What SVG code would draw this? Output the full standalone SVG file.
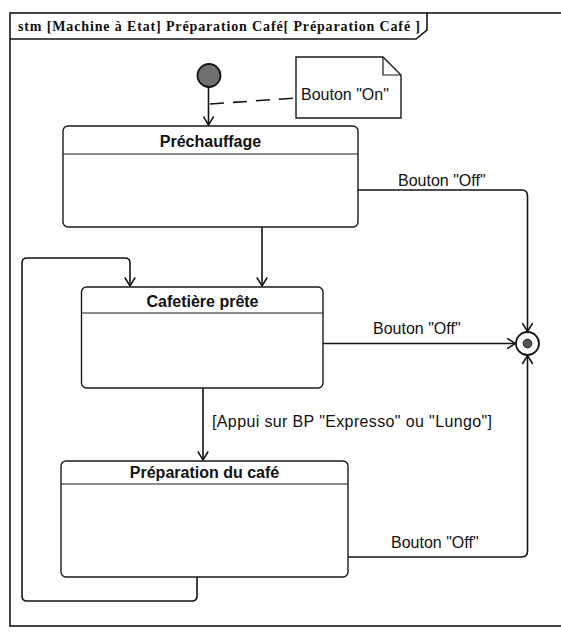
<svg xmlns="http://www.w3.org/2000/svg" width="561" height="635" viewBox="0 0 561 635">
  <style>
    .frame { fill: none; stroke: #161616; stroke-width: 1.6; }
    .state { fill: #ffffff; stroke: #1a1a1a; stroke-width: 1.4; }
    .div { stroke: #1a1a1a; stroke-width: 1.2; }
    .edge { fill: none; stroke: #141414; stroke-width: 1.6; }
    .title { font-family: "Liberation Sans", Arial, sans-serif; font-size: 16px; font-weight: bold; fill: #111; text-anchor: middle; }
    .lbl { font-family: "Liberation Sans", Arial, sans-serif; font-size: 16px; fill: #111; }
    .hdr { font-family: "Liberation Serif", "Times New Roman", serif; font-size: 14px; font-weight: bold; fill: #111; }
  </style>
  <defs>
    <marker id="open" viewBox="0 0 10 12" refX="9" refY="6" markerWidth="10" markerHeight="12" markerUnits="userSpaceOnUse" orient="auto">
      <path d="M0.5,0.8 L9,6 L0.5,11.2" fill="none" stroke="#141414" stroke-width="1.5"/>
    </marker>
  </defs>

  <rect width="561" height="635" fill="#ffffff"/>

  <!-- diagram frame with name tab -->
  <g id="frame">
    <rect class="frame" x="10" y="13" width="570" height="613"/>
    <path class="frame" d="M10,39 H416 L427,30 V13"/>
    <text class="hdr" x="18" y="31" textLength="402" lengthAdjust="spacing">stm [Machine à Etat] Préparation Café[ Préparation Café ]</text>
  </g>

  <!-- connectors -->
  <g id="connectors">
    <line class="edge" x1="208.5" y1="87" x2="208.5" y2="125" marker-end="url(#open)"/>
    <line class="edge" x1="210" y1="104" x2="296" y2="98" stroke-dasharray="14 9"/>
    <line class="edge" x1="262" y1="227" x2="262" y2="286" marker-end="url(#open)"/>
    <path class="edge" d="M358,190 H522 Q527.5,190 527.5,196 V331.5" marker-end="url(#open)"/>
    <line class="edge" x1="323" y1="343.5" x2="515.5" y2="343.5" marker-end="url(#open)"/>
    <path class="edge" d="M348,557 H522 Q527.5,557 527.5,551 V355.5" marker-end="url(#open)"/>
    <line class="edge" x1="203" y1="388" x2="203" y2="460" marker-end="url(#open)"/>
    <path class="edge" d="M197,577 V596 Q197,601 192,601 H27 Q22,601 22,596 V263 Q22,258 27,258 H125 Q130,258 130,263 V286" marker-end="url(#open)"/>
    <text class="lbl" x="398" y="186">Bouton "Off"</text>
    <text class="lbl" x="373" y="334">Bouton "Off"</text>
    <text class="lbl" x="391" y="548">Bouton "Off"</text>
    <text class="lbl" x="212" y="427" textLength="280" lengthAdjust="spacing">[Appui sur BP "Expresso" ou "Lungo"]</text>
  </g>

  <g id="initial">
    <circle cx="209" cy="75.5" r="11.5" fill="#6f6f6f" stroke="#141414" stroke-width="1.8"/>
  </g>

  <g id="note-on">
    <path class="state" d="M296,57 H383 L401,75 V118 H296 Z"/>
    <path fill="none" stroke="#1a1a1a" stroke-width="1.2" d="M383,57 V75 H401"/>
    <text class="lbl" x="301" y="100">Bouton "On"</text>
  </g>

  <g id="prechauffage">
    <rect class="state" x="63" y="126" width="295" height="101" rx="5"/>
    <line class="div" x1="63" y1="154" x2="358" y2="154"/>
    <text class="title" x="210.5" y="147">Préchauffage</text>
  </g>

  <g id="cafetiere-prete">
    <rect class="state" x="81.5" y="287" width="241.5" height="101" rx="5"/>
    <line class="div" x1="81.5" y1="313" x2="323" y2="313"/>
    <text class="title" x="202.5" y="307">Cafetière prête</text>
  </g>

  <g id="preparation-cafe">
    <rect class="state" x="61" y="461" width="287" height="116" rx="5"/>
    <line class="div" x1="61" y1="484" x2="348" y2="484"/>
    <text class="title" x="204.5" y="478">Préparation du café</text>
  </g>

  <g id="final">
    <circle cx="527.5" cy="343.5" r="11.5" fill="#ffffff" stroke="#141414" stroke-width="1.8"/>
    <circle cx="527.5" cy="343.5" r="4.3" fill="#555555" stroke="#141414" stroke-width="1"/>
  </g>
</svg>
